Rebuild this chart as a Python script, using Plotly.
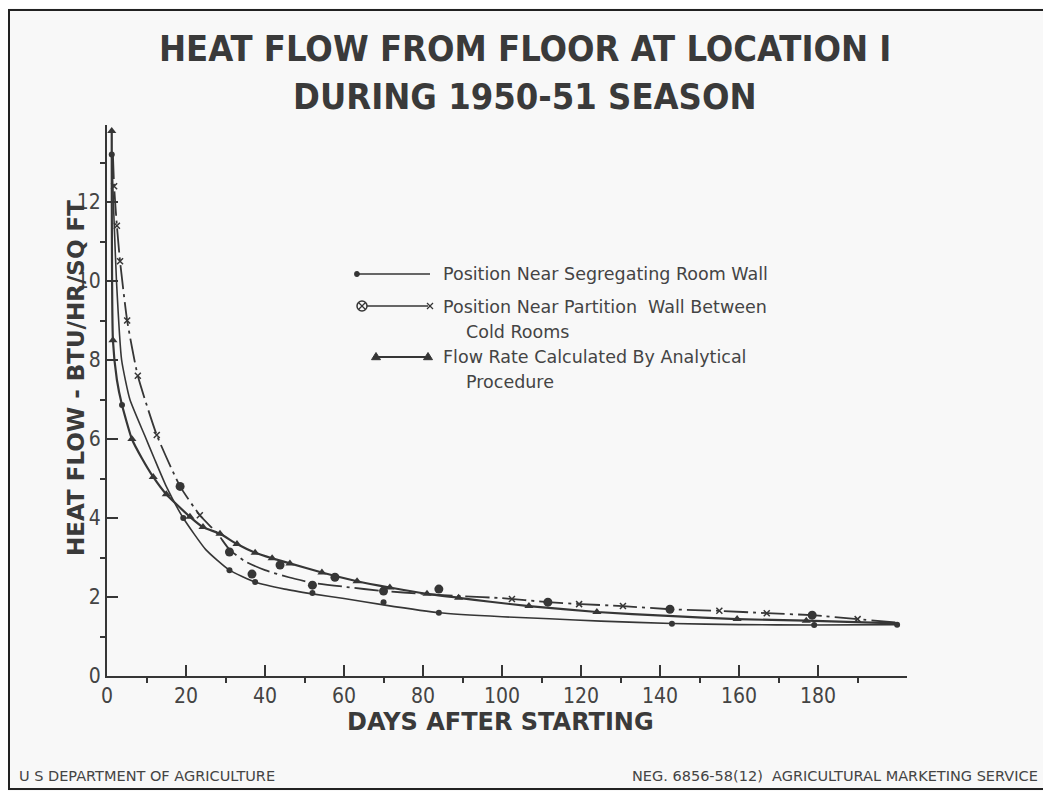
import plotly.graph_objects as go

# ---- data (days, BTU/hr/sq ft) ----
# Position near segregating room wall (dots, solid line)
seg_curve_x = [1.2, 1.8, 2.4, 3.7, 5.8, 9.5, 12, 15, 19.3, 25, 31, 37.5, 45, 52, 60, 70, 84, 100, 112, 125, 143, 160, 179, 200]
seg_curve_y = [13.2, 11.5, 10.0, 8.0, 7.0, 6.1, 5.5, 4.8, 4.0, 3.2, 2.68, 2.38, 2.2, 2.08, 1.96, 1.8, 1.6, 1.5, 1.45, 1.39, 1.33, 1.3, 1.29, 1.3]
seg_pts_x = [1.2, 3.8, 19.3, 31, 37.5, 52, 70, 84, 143, 179, 200]
seg_pts_y = [13.2, 6.86, 4.0, 2.68, 2.38, 2.1, 1.87, 1.6, 1.32, 1.29, 1.3]

# Position near partition wall between cold rooms (x and circle, dash-dot)
part_curve_x = [1.5, 1.8, 2.5, 3.3, 5.1, 7.8, 12.6, 18.5, 23.5, 28, 31, 35, 40, 46, 52, 60, 70, 80, 90, 100, 111.6, 120, 130.6, 142.5, 155, 167, 178.5, 190, 200]
part_curve_y = [13.2, 12.4, 11.4, 10.5, 9.0, 7.6, 6.1, 4.8, 4.07, 3.6, 3.2, 2.9, 2.68, 2.5, 2.36, 2.26, 2.15, 2.08, 2.02, 1.97, 1.87, 1.82, 1.77, 1.69, 1.65, 1.59, 1.54, 1.44, 1.35]
part_x_x = [1.8, 2.5, 3.3, 5.1, 7.8, 12.6, 23.5, 102.5, 119.5, 130.6, 155, 167, 190]
part_x_y = [12.4, 11.4, 10.5, 9.0, 7.6, 6.1, 4.07, 1.95, 1.82, 1.77, 1.65, 1.59, 1.44]
part_o_x = [18.5, 31, 36.7, 43.8, 52, 57.7, 70, 84, 111.6, 142.5, 178.5]
part_o_y = [4.8, 3.14, 2.58, 2.81, 2.3, 2.5, 2.15, 2.2, 1.87, 1.69, 1.54]

# Flow rate calculated by analytical procedure (triangles, solid)
ana_curve_x = [1.2, 1.5, 2.5, 3.8, 6.3, 8.9, 11.7, 15, 21, 24.3, 28.6, 32.9, 37.5, 41.8, 46.3, 54.4, 63.3, 71.6, 81, 89, 97, 106.8, 124, 142, 159.5, 177, 200]
ana_curve_y = [13.8, 8.5, 7.5, 6.86, 6.0, 5.5, 5.04, 4.6, 4.03, 3.77, 3.6, 3.34, 3.12, 2.98, 2.85, 2.62, 2.4, 2.24, 2.08, 1.98, 1.88, 1.77, 1.62, 1.52, 1.44, 1.4, 1.33]
ana_pts_x = [1.2, 1.5, 6.3, 11.7, 15, 21, 24.3, 28.6, 32.9, 37.5, 41.8, 46.3, 54.4, 63.3, 71.6, 81, 89, 106.8, 124, 159.5, 177]
ana_pts_y = [13.8, 8.5, 6.0, 5.04, 4.6, 4.03, 3.77, 3.6, 3.34, 3.12, 2.98, 2.85, 2.62, 2.4, 2.24, 2.08, 1.98, 1.77, 1.62, 1.44, 1.4]

x_ticks = [0, 20, 40, 60, 80, 100, 120, 140, 160, 180]
x_minor = [10, 30, 50, 70, 90, 110, 130, 150, 170, 190]
y_ticks = [0, 2, 4, 6, 8, 10, 12]
y_minor = [1, 3, 5, 7, 9, 11, 13]

title_lines = ['HEAT FLOW FROM FLOOR AT LOCATION I', 'DURING 1950-51 SEASON']
x_title = 'DAYS AFTER STARTING'
y_title = 'HEAT FLOW - BTU/HR/SQ FT'
legend_rows = [
    ('Position Near Segregating Room Wall', None),
    ('Position Near Partition  Wall Between', 'Cold Rooms'),
    ('Flow Rate Calculated By Analytical', 'Procedure'),
]
footer_left = 'U S DEPARTMENT OF AGRICULTURE'
footer_right = 'NEG. 6856-58(12)  AGRICULTURAL MARKETING SERVICE'

# ---- page geometry (the page body adds an 8px margin) ----
W, H = 1043, 783
L, R, T, B = 99, 144, 117, 115
PLOT_X0, PLOT_Y1 = 107, 676      # screen position of the axes corner
PW, PH = 800, 551
INK = '#363636'
TXT = '#444444'
BG = '#f8f8f8'


def px(x):
    return (x - PLOT_X0) / PW


def py(y):
    return (PLOT_Y1 - y) / PH


fig = go.Figure()


def curve(xs, ys, dash='solid', width=1.8):
    fig.add_trace(go.Scatter(
        x=xs, y=ys, mode='lines', hoverinfo='skip', showlegend=False,
        line=dict(color=INK, width=width, dash=dash, shape='spline', smoothing=0.5),
    ))


def points(xs, ys, symbol, size, width=0):
    fig.add_trace(go.Scatter(
        x=xs, y=ys, mode='markers', hoverinfo='skip', showlegend=False,
        marker=dict(symbol=symbol, size=size, color=INK, line=dict(color=INK, width=width)),
    ))


curve(seg_curve_x, seg_curve_y, width=1.6)
curve(part_curve_x, part_curve_y, dash='24px,5px,3px,5px', width=1.8)
curve(ana_curve_x, ana_curve_y, width=2.2)
points(seg_pts_x, seg_pts_y, 'circle', 6)
points(part_x_x, part_x_y, 'x-thin', 6, width=1.5)
points(part_o_x, part_o_y, 'circle', 9)
points(ana_pts_x, ana_pts_y, 'triangle-up', 8)

# ---- hand-drawn legend ----
shapes = []
annotations = []


def seg(x0, y0, x1, y1, width=1.5):
    shapes.append(dict(type='line', xref='paper', yref='paper',
                       x0=px(x0), y0=py(y0), x1=px(x1), y1=py(y1),
                       line=dict(color=INK, width=width)))


def dot(cx, cy, r, fill=INK, width=1.2):
    shapes.append(dict(type='circle', xref='paper', yref='paper',
                       x0=px(cx - r), y0=py(cy + r), x1=px(cx + r), y1=py(cy - r),
                       fillcolor=fill, line=dict(color=INK, width=width)))


def tri(cx, cy, s):
    path = 'M {} {} L {} {} L {} {} Z'.format(
        px(cx - s), py(cy + s * 0.6), px(cx + s), py(cy + s * 0.6), px(cx), py(cy - s))
    shapes.append(dict(type='path', xref='paper', yref='paper', path=path,
                       fillcolor=INK, line=dict(color=INK, width=1)))


def label(text, x, y, size, anchor='left', family='DejaVu Sans', weight='normal', angle=0, color=TXT):
    annotations.append(dict(text=text, xref='paper', yref='paper', x=px(x), y=py(y),
                            xanchor=anchor, yanchor='middle', showarrow=False, textangle=angle,
                            font=dict(family=family, size=size, color=color, weight=weight)))


# row 1: dot and solid line
dot(357, 274, 2.3)
seg(359, 274, 430, 274)
# row 2: circled x, line, x
dot(362, 306, 5, fill=BG, width=1.5)
seg(358.5, 302.5, 365.5, 309.5, 1.2)
seg(358.5, 309.5, 365.5, 302.5, 1.2)
seg(367, 306, 428, 306, 1.3)
seg(427, 303, 433, 309, 1.2)
seg(427, 309, 433, 303, 1.2)
# row 3: triangles and line
tri(376, 357, 4.5)
seg(378, 357, 426, 357, 1.8)
tri(428, 357, 4.5)

for (first, second), yy in zip(legend_rows, [274, 307, 357]):
    label(first, 441, yy, 17.5)
    if second:
        label(second, 464, yy + 25, 17.5)

# titles
for line, cy in zip(title_lines, [48, 96]):
    label(line, 525, cy, 36, anchor='center', family='DejaVu Sans Condensed, DejaVu Sans',
          weight='bold', color='#3a3a3a')
label(x_title, 500, 722, 24, anchor='center', weight='bold', color='#3a3a3a')
label(y_title, 76, 378, 23, anchor='center', weight='bold', angle=-90, color='#3a3a3a')

# footer
label(footer_left, 17, 776, 14.5)
label(footer_right, 1040, 776, 14.5, anchor='right')

# page frame
shapes.append(dict(type='rect', xref='paper', yref='paper',
                   x0=px(9), y0=py(789), x1=px(1047), y1=py(10),
                   line=dict(color='#222222', width=2), layer='below'))

tick_font = dict(family='Liberation Sans Narrow, DejaVu Sans Condensed', size=21, color=TXT)

fig.update_layout(
    width=W, height=H,
    margin=dict(l=L, r=R, t=T, b=B),
    paper_bgcolor=BG, plot_bgcolor=BG,
    showlegend=False,
    shapes=shapes,
    annotations=annotations,
    xaxis=dict(
        range=[0, 202.5], showgrid=False, zeroline=False,
        showline=True, linecolor=INK, linewidth=2,
        tickmode='array', tickvals=x_ticks, ticks='inside', ticklen=11, tickwidth=1.5, tickcolor=INK,
        minor=dict(tickmode='array', tickvals=x_minor, ticks='outside', ticklen=5, tickwidth=1.5, tickcolor=INK),
        tickfont=tick_font,
    ),
    yaxis=dict(
        range=[0, 13.95], showgrid=False, zeroline=False,
        showline=True, linecolor=INK, linewidth=2,
        tickmode='array', tickvals=y_ticks, ticks='inside', ticklen=11, tickwidth=1.5, tickcolor=INK,
        minor=dict(tickmode='array', tickvals=y_minor, ticks='outside', ticklen=5, tickwidth=1.5, tickcolor=INK),
        tickfont=tick_font,
    ),
)

fig.write_html('out.html')
